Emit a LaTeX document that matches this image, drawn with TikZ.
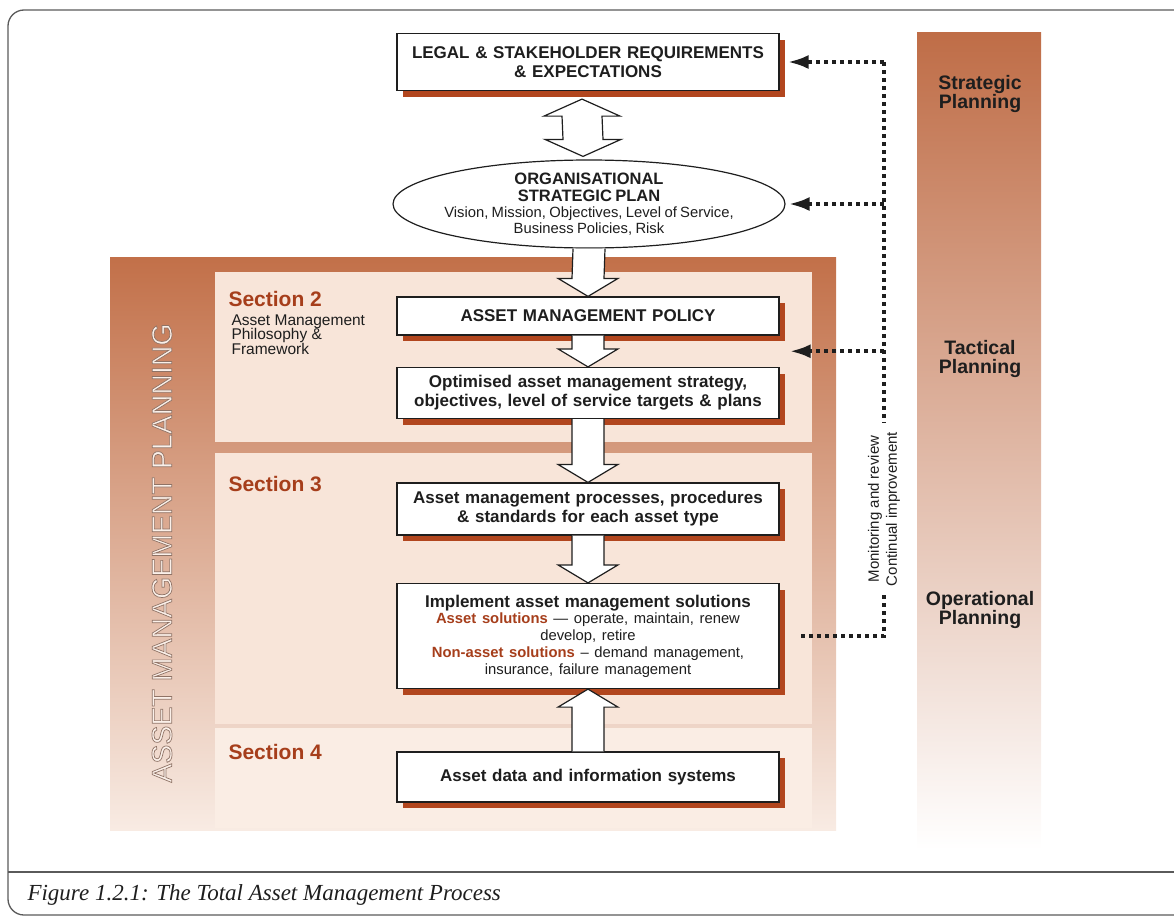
\documentclass[tikz,border=0pt]{standalone}
\usepackage{fontspec}
\setmainfont{Liberation Sans}
\newfontfamily\captionserif{Liberation Serif}
\usetikzlibrary{arrows.meta,positioning,calc,shapes.geometric,shadows}

\definecolor{ampdark}{HTML}{C27049}
\definecolor{amppale}{HTML}{F8EBE3}
\definecolor{amptext}{HTML}{FBF0E9}
\definecolor{secfill}{HTML}{F8E5D9}
\definecolor{secred}{HTML}{A63E1B}
\definecolor{shadowbrown}{HTML}{B2461E}
\definecolor{bartop}{HTML}{BF6D47}
\definecolor{barmid}{HTML}{DFAA8D}
\definecolor{framegray}{HTML}{5A5A5A}
\definecolor{inkgray}{HTML}{1E1E1E}

\newcommand{\boxfont}{\fontsize{17}{19}\selectfont\bfseries}
\newcommand{\descfont}{\fontsize{14.8}{16}\selectfont}
\newcommand{\arrbody}{16}
\newcommand{\arrhead}{30}

% hollow block arrow: #1 base, #2 tip, #3 head length (negative points up)
\newcommand{\blockarrow}[3]{%
  \draw[blockarr] ($(#1)+(-\arrbody,0)$) -- ($(#2)+(-\arrbody,{-1*(#3)})$)
    -- ($(#2)+(-\arrhead,{-1*(#3)})$) -- (#2) -- ($(#2)+(\arrhead,{-1*(#3)})$)
    -- ($(#2)+(\arrbody,{-1*(#3)})$) -- ($(#1)+(\arrbody,0)$);}

\begin{document}
\begin{tikzpicture}[x=1pt,y=-1pt,
  planbox/.style={draw=inkgray, line width=1.2pt, fill=white, text=inkgray,
    text width=378pt, align=center, inner xsep=2pt, inner ysep=0pt, font=\boxfont,
    drop shadow={shadow xshift=6pt, shadow yshift=-6pt, fill=shadowbrown, opacity=1}},
  blockarr/.style={draw=inkgray, fill=white, line width=1.2pt, line join=miter},
  feedback/.style={draw=inkgray, line width=4pt, dash pattern=on 4pt off 4pt},
  fbtip/.style={-{Latex[length=21pt,width=14pt]}},
  seclabel/.style={anchor=west, text=secred, font=\fontsize{21}{23}\selectfont\bfseries},
  planlabel/.style={align=center, text=inkgray, font=\fontsize{19.5}{19.5}\selectfont\bfseries}]
\useasboundingbox (0,0) rectangle (1174,918);

% frame and caption
\draw[framegray, line width=1.3pt, rounded corners=16pt] (1174,10) -| (8,915) -- (1174,915);
\draw[framegray, line width=1.2pt] (8,872) -- (1174,872);
\node[anchor=west, text=inkgray, font=\captionserif\itshape\fontsize{23}{26}\selectfont] (caption) at (24,895)
  {Figure 1.2.1: The Total Asset Management Process};

% asset management planning panel
\shade[top color=ampdark, bottom color=amppale] (110,257) rectangle (836,830);
\fill[secfill] (215,272) rectangle (812,442);
\fill[secfill] (215,453) rectangle (812,724);
\fill[secfill!70!white] (215,728) rectangle (812,828);
\node[rotate=90, text=amptext, font=\fontsize{28.5}{30}\selectfont] (amp) at (162,553)
  {\special{pdf:literal direct 2 Tr 0.7 w 0.56 0.45 0.40 RG}ASSET MANAGEMENT PLANNING\special{pdf:literal direct 0 Tr}};

% planning levels bar
\shade[top color=bartop, middle color=barmid, bottom color=white] (917,32) rectangle (1041,850);
\node[planlabel] (strat) at (980,94) {Strategic\\Planning};
\node[planlabel] (tact) at (980,359) {Tactical\\Planning};
\node[planlabel] (oper) at (980,610) {Operational\\Planning};

% section labels
\node[seclabel] (sec2) at (225,299) {Section 2};
\node[anchor=north west, align=left, text=inkgray, font=\fontsize{15.5}{14.5}\selectfont] (sec2txt) at (228,311)
  {Asset Management\\Philosophy \&\\Framework};
\node[seclabel] (sec3) at (225,484) {Section 3};
\node[seclabel] (sec4) at (225,752) {Section 4};

% process boxes
\node[planbox, minimum height=57] (legal) at (588,62) {LEGAL \& STAKEHOLDER REQUIREMENTS\\\& EXPECTATIONS};
\node[ellipse, draw=inkgray, line width=1.2pt, fill=white, minimum width=392, minimum height=88,
  inner xsep=-30pt, inner ysep=-12pt, text width=320pt, align=center, text=inkgray] (plan) at (589,204)
  {{\fontsize{16.5}{17}\selectfont\bfseries ORGANISATIONAL\\STRATEGIC PLAN\par}
   {\descfont Vision, Mission, Objectives, Level of Service,\\Business Policies, Risk\par}};
\node[planbox, minimum height=38] (policy) at (588,316) {ASSET MANAGEMENT POLICY};
\node[planbox, minimum height=51] (optim) at (588,393) {Optimised asset management strategy,\\objectives, level of service targets \& plans};
\node[planbox, minimum height=52] (process) at (588,509) {Asset management processes, procedures\\\& standards for each asset type};
\node[planbox, minimum height=105] (implement) at (588,636)
  {{\boxfont Implement asset management solutions\par}
   {\fontsize{14.8}{16.8}\selectfont\mdseries\textcolor{secred}{\bfseries Asset solutions} --- operate, maintain, renew\\develop, retire\\
    \textcolor{secred}{\bfseries Non-asset solutions} -- demand management,\\insurance, failure management\par}};
\node[planbox, minimum height=50] (data) at (588,777) {Asset data and information systems};

% hollow arrows
\coordinate (dtop) at ($(legal.south)+(-6,8)$);
\coordinate (dbot) at ($(plan.north)+(-6,-3)$);
\draw[blockarr] (dtop) -- ++(38,17) -- ++(-18,0) -- ($(dbot)+(20,-17)$) -- ++(18,0) -- (dbot)
  -- ++(-38,-17) -- ++(18,0) -- ($(dtop)+(-20,17)$) -- ++(-18,0) -- cycle;
\blockarrow{plan.south}{policy.north}{18}
\blockarrow{policy.south}{optim.north}{18}
\blockarrow{optim.south}{process.north}{18}
\blockarrow{process.south}{implement.north}{18}
\blockarrow{data.north}{implement.south}{-18}

% monitoring feedback loop
\coordinate (fbcol) at (884,0);
\coordinate (tactin) at ($(policy.south east)!0.5!(optim.north east)+(10,0)$);
\node[rotate=90, align=center, text=inkgray, font=\fontsize{15}{18}\selectfont, inner sep=9pt] (monitor) at (884,509)
  {Monitoring and review\\Continual improvement};
\draw[feedback] (fbcol |- legal.east) -- (monitor.east);
\draw[feedback] (monitor.west) -- (fbcol |- implement.east) -- ([xshift=20pt]implement.east);
\draw[feedback, fbtip] (fbcol |- legal.east) -- ([xshift=8pt]legal.east);
\draw[feedback, fbtip] (fbcol |- plan.east) -- ([xshift=3pt]plan.east);
\draw[feedback, fbtip] (fbcol |- tactin) -- (tactin);
\end{tikzpicture}
\end{document}
